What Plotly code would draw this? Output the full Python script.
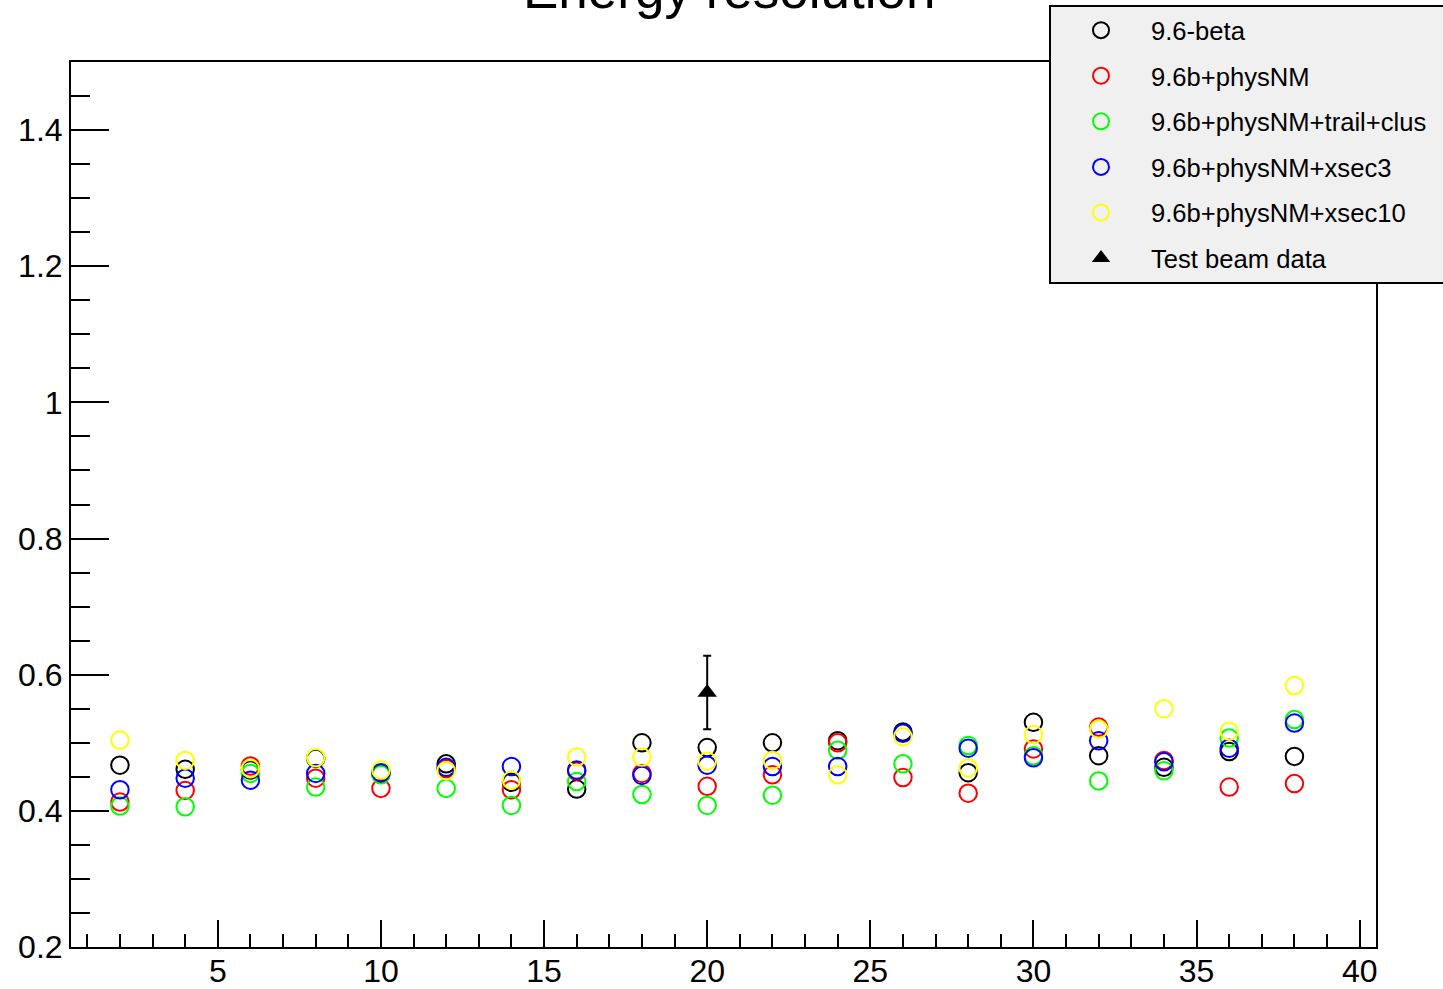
import plotly.graph_objects as go

energy = [2, 4, 6, 8, 10, 12, 14, 16, 18, 20, 22, 24, 26, 28, 30, 32, 34, 36, 38]

res_96beta   = [0.467, 0.461, 0.460, 0.477, 0.455, 0.469, 0.442, 0.432, 0.500, 0.493, 0.500, 0.503, 0.516, 0.456, 0.530, 0.481, 0.464, 0.487, 0.480]
res_physNM   = [0.413, 0.430, 0.466, 0.448, 0.433, 0.462, 0.431, 0.458, 0.455, 0.436, 0.453, 0.500, 0.449, 0.426, 0.491, 0.523, 0.474, 0.435, 0.440]
res_trail    = [0.407, 0.406, 0.455, 0.435, 0.453, 0.433, 0.408, 0.443, 0.424, 0.408, 0.423, 0.489, 0.469, 0.496, 0.481, 0.444, 0.459, 0.507, 0.534]
res_xsec3    = [0.431, 0.448, 0.445, 0.455, 0.456, 0.464, 0.465, 0.460, 0.452, 0.467, 0.465, 0.465, 0.514, 0.492, 0.478, 0.503, 0.472, 0.492, 0.529]
res_xsec10   = [0.504, 0.474, 0.462, 0.478, 0.460, 0.459, 0.445, 0.479, 0.479, 0.473, 0.474, 0.453, 0.509, 0.463, 0.512, 0.520, 0.550, 0.517, 0.584]

beam_energy = [20]
beam_res = [0.574]
beam_err = [0.054]

series_names = ["9.6-beta", "9.6b+physNM", "9.6b+physNM+trail+clus\u00a0\u00a0", "9.6b+physNM+xsec3", "9.6b+physNM+xsec10"]
series_colors = ["#000000", "#ff0000", "#00ff00", "#0000ff", "#ffff00"]
series_values = [res_96beta, res_physNM, res_trail, res_xsec3, res_xsec10]

FONT = "Liberation Sans, Arial, Helvetica, sans-serif"

fig = go.Figure()
for i, (name, col, vals) in enumerate(zip(series_names, series_colors, series_values)):
    fig.add_trace(go.Scatter(
        x=energy, y=vals, mode="markers", name=name, legendgroup=f"g{i}",
        marker=dict(symbol="circle-open", size=17.5, color=col, line=dict(width=2, color=col)),
    ))

fig.add_trace(go.Scatter(
    x=beam_energy, y=beam_res, mode="markers", name="Test beam data", legendgroup="g5",
    marker=dict(symbol="triangle-up", size=17, color="black"),
    error_y=dict(type="data", array=beam_err, visible=True, color="black", thickness=2, width=4),
))

fig.add_annotation(
    text="Energy resolution", x=0.5045, xref="paper", y=1.0819, yref="paper",
    xanchor="center", yanchor="middle", showarrow=False,
    font=dict(family=FONT, size=53, color="black"),
)

axis_common = dict(
    showline=True, linewidth=2, linecolor="black", mirror=True,
    ticks="inside", tickwidth=2, tickcolor="black", showgrid=False, zeroline=False,
    tickfont=dict(family=FONT, size=32, color="black"),
)

fig.update_xaxes(range=[0.5, 40.5], tick0=0, dtick=5, ticklen=27, ticklabelstandoff=-5,
                 minor=dict(ticks="inside", dtick=1, ticklen=13, tickwidth=2, tickcolor="black", showgrid=False),
                 **axis_common)
fig.update_yaxes(range=[0.2, 1.5], tick0=0.2, dtick=0.2, ticklen=38,
                 minor=dict(ticks="inside", dtick=0.05, ticklen=19, tickwidth=2, tickcolor="black", showgrid=False),
                 **axis_common)

fig.update_layout(
    width=1443, height=989,
    margin=dict(l=71, r=67, t=62, b=42, autoexpand=False),
    paper_bgcolor="white", plot_bgcolor="white",
    font=dict(family=FONT, color="black"),
    legend=dict(
        xref="container", yref="container", x=1049/1443, y=1 - 5/989,
        xanchor="left", yanchor="top",
        bgcolor="#f0f0f0", bordercolor="black", borderwidth=2,
        font=dict(family=FONT, size=25.6, color="black"),
        traceorder="grouped", tracegroupgap=9.3, itemwidth=90,
    ),
    showlegend=True,
)

fig.write_html("out.html")
